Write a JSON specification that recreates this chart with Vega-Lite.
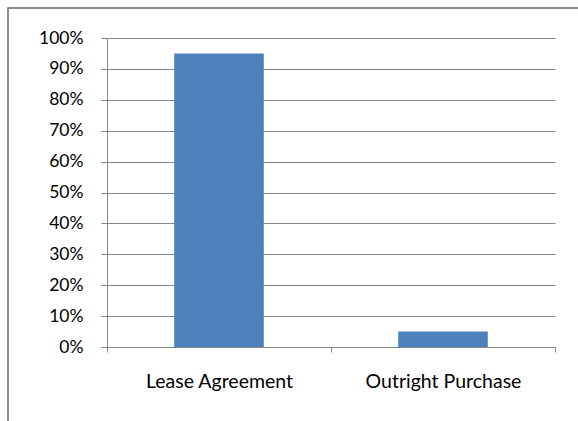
{
  "$schema": "https://vega.github.io/schema/vega-lite/v6.json",
  "autosize": "none",
  "width": 448,
  "height": 309,
  "padding": {"left": 107, "top": 38, "right": 23, "bottom": 74},
  "background": "white",
  "config": {"view": {"stroke": null}, "font": "Lato"},
  "data": {"values": [
    {"method": "Lease Agreement", "share": 0.95},
    {"method": "Outright Purchase", "share": 0.05}
  ]},
  "layer": [
    {
      "mark": {"type": "rect", "fill": null, "stroke": "#868686", "strokeWidth": 1.5},
      "encoding": {
        "x": {"value": -99},
        "y": {"value": -30},
        "x2": {"value": 620},
        "y2": {"value": 500}
      }
    },
    {
      "mark": {"type": "bar", "color": "#4F81BD", "width": {"band": 0.4}},
      "encoding": {
        "x": {
          "field": "method", "type": "nominal", "sort": null,
          "scale": {"paddingInner": 0, "paddingOuter": 0},
          "axis": {
            "title": null, "labelAngle": 0, "labelFontSize": 19.5, "labelColor": "#000000",
            "labelPadding": 20, "domainColor": "#868686", "tickColor": "#868686",
            "tickSize": 5, "tickBand": "extent", "grid": false
          }
        },
        "y": {
          "field": "share", "type": "quantitative",
          "scale": {"domain": [0, 1]},
          "axis": {
            "title": null, "format": ".0%", "values": [0, 0.1, 0.2, 0.3, 0.4, 0.5, 0.6, 0.7, 0.8, 0.9, 1],
            "labelFontSize": 17.5, "labelColor": "#000000", "labelPadding": 18,
            "domainColor": "#868686", "tickColor": "#868686", "tickSize": 6,
            "grid": true, "gridColor": "#868686", "gridOpacity": 1
          }
        }
      }
    }
  ]
}
